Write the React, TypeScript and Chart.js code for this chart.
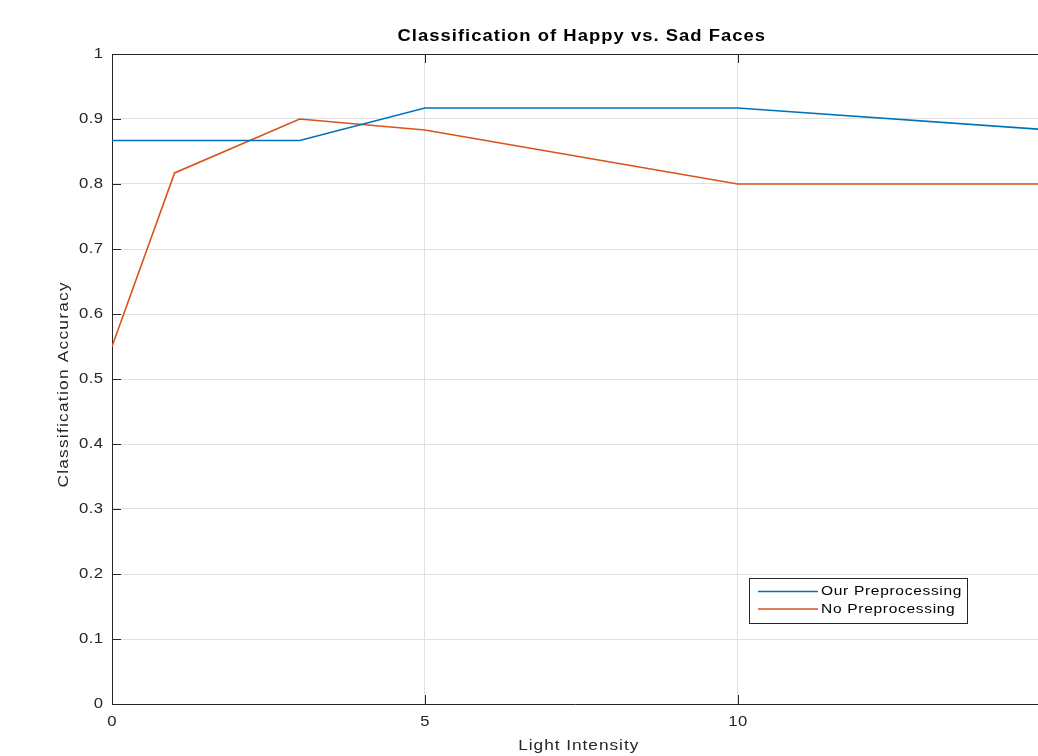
import React, { useEffect, useRef } from "react";
import { Chart, registerables } from "chart.js";

Chart.register(...registerables);

const lightIntensity = [0, 1, 3, 5, 10, 15];
const ourPreprocessing = [0.867, 0.867, 0.867, 0.917, 0.917, 0.883];
const noPreprocessing = [0.55, 0.817, 0.9, 0.883, 0.8, 0.8];
const xTicks = [0, 5, 10];
const yTicks = [0, 0.1, 0.2, 0.3, 0.4, 0.5, 0.6, 0.7, 0.8, 0.9, 1];
const seriesLabels = ["Our Preprocessing", "No Preprocessing"];
const seriesColors = ["#0072BD", "#D95319"];
const titleText = "Classification of Happy vs. Sad Faces";
const xLabel = "Light Intensity";
const yLabel = "Classification Accuracy";

const FONT = '"Liberation Sans", Arial, Helvetica, sans-serif';
const AXIS_COLOR = "#262626";
const STRETCH = 1.15;

function drawText(ctx: any, text: string, x: number, y: number, font: string, spacing: number, align: string, baseline: string, color: string) {
  ctx.save();
  ctx.font = font;
  ctx.fillStyle = color;
  ctx.textBaseline = baseline;
  ctx.letterSpacing = spacing + "px";
  const w = (ctx.measureText(text).width - spacing) * STRETCH;
  let sx = x;
  if (align === "center") sx = x - w / 2;
  else if (align === "right") sx = x - w;
  ctx.textAlign = "left";
  ctx.translate(sx, y);
  ctx.scale(STRETCH, 1);
  ctx.fillText(text, 0, 0);
  ctx.restore();
}

const decorPlugin = {
  id: "decor",
  afterDraw(chart: any) {
    const { ctx, chartArea } = chart;
    const xs = chart.scales.x;
    const ys = chart.scales.y;
    ctx.save();
    ctx.strokeStyle = AXIS_COLOR;
    ctx.lineWidth = 1;
    // top border
    ctx.beginPath();
    ctx.moveTo(chartArea.left, chartArea.top + 0.5);
    ctx.lineTo(chartArea.right, chartArea.top + 0.5);
    ctx.stroke();
    // inner ticks
    const tl = 9;
    xs.ticks.forEach((t: any) => {
      const px = Math.round(xs.getPixelForValue(t.value)) + 0.5;
      ctx.beginPath();
      ctx.moveTo(px, chartArea.bottom);
      ctx.lineTo(px, chartArea.bottom - tl);
      ctx.moveTo(px, chartArea.top);
      ctx.lineTo(px, chartArea.top + tl);
      ctx.stroke();
    });
    ys.ticks.forEach((t: any) => {
      const py = Math.round(ys.getPixelForValue(t.value)) + 0.5;
      ctx.beginPath();
      ctx.moveTo(chartArea.left, py);
      ctx.lineTo(chartArea.left + tl, py);
      ctx.stroke();
    });
    ctx.restore();

    const tickFont = "14.5px " + FONT;
    xs.ticks.forEach((t: any) => {
      const px = xs.getPixelForValue(t.value);
      drawText(ctx, String(t.value), px, chartArea.bottom + 11, tickFont, 0.4, "center", "top", AXIS_COLOR);
    });
    ys.ticks.forEach((t: any) => {
      const py = ys.getPixelForValue(t.value);
      const label = String(Number(t.value.toFixed(1)));
      drawText(ctx, label, chartArea.left - 9, py, tickFont, 0.4, "right", "middle", AXIS_COLOR);
    });

    // title
    const axisCenterX = chartArea.left + 7.5 * (xs.getPixelForValue(1) - xs.getPixelForValue(0));
    drawText(ctx, titleText, axisCenterX, 37, "bold 16px " + FONT, 0.9, "center", "middle", "#000000");
    // x label
    drawText(ctx, xLabel, axisCenterX - 3, 746, "15px " + FONT, 0.85, "center", "middle", AXIS_COLOR);
    // y label
    ctx.save();
    ctx.translate(64, (chartArea.top + chartArea.bottom) / 2 + 6);
    ctx.rotate(-Math.PI / 2);
    drawText(ctx, yLabel, 0, 0, "15px " + FONT, 1.1, "center", "middle", AXIS_COLOR);
    ctx.restore();

    // legend
    const bx = 749, by = 578, bw = 218, bh = 45;
    ctx.save();
    ctx.fillStyle = "#ffffff";
    ctx.fillRect(bx, by, bw, bh);
    ctx.strokeStyle = AXIS_COLOR;
    ctx.lineWidth = 1;
    ctx.strokeRect(bx + 0.5, by + 0.5, bw, bh);
    chart.data.datasets.forEach((ds: any, i: number) => {
      const ly = 591.5 + i * 17.5;
      ctx.strokeStyle = ds.borderColor;
      ctx.lineWidth = 1.5;
      ctx.beginPath();
      ctx.moveTo(758, ly);
      ctx.lineTo(818, ly);
      ctx.stroke();
      drawText(ctx, ds.label, 821, ly, "13.5px " + FONT, 0.6, "left", "middle", "#000000");
    });
    ctx.restore();
  },
};

export default function App() {
  const ref = useRef<HTMLCanvasElement | null>(null);
  useEffect(() => {
    document.body.style.margin = "0";
    const canvas = ref.current!;
    const chart = new Chart(canvas, {
      type: "line",
      data: {
        labels: lightIntensity,
        datasets: [
          {
            label: seriesLabels[0],
            data: lightIntensity.map((x, i) => ({ x, y: ourPreprocessing[i] })),
            borderColor: seriesColors[0],
            backgroundColor: seriesColors[0],
            borderWidth: 1.6,
            pointRadius: 0,
            tension: 0,
          },
          {
            label: seriesLabels[1],
            data: lightIntensity.map((x, i) => ({ x, y: noPreprocessing[i] })),
            borderColor: seriesColors[1],
            backgroundColor: seriesColors[1],
            borderWidth: 1.6,
            pointRadius: 0,
            tension: 0,
          },
        ],
      },
      options: {
        responsive: false,
        animation: false,
        devicePixelRatio: 1,
        layout: { padding: { top: 54, left: 0, right: 0, bottom: 0 } },
        plugins: {
          legend: { display: false },
          title: { display: false },
          tooltip: { enabled: false },
        },
        scales: {
          x: {
            type: "linear",
            min: 0,
            max: 14.8,
            afterBuildTicks: (s: any) => {
              s.ticks = xTicks.map((v) => ({ value: v }));
            },
            afterFit: (s: any) => {
              s.height = 52;
            },
            ticks: { display: false },
            grid: { color: "#e1e1e1", drawTicks: false, lineWidth: 1 },
            border: { display: true, color: AXIS_COLOR, width: 1 },
          },
          y: {
            type: "linear",
            min: 0,
            max: 1,
            afterBuildTicks: (s: any) => {
              s.ticks = yTicks.map((v) => ({ value: v }));
            },
            afterFit: (s: any) => {
              s.width = 112;
            },
            ticks: { display: false },
            grid: { color: "#e1e1e1", drawTicks: false, lineWidth: 1 },
            border: { display: true, color: AXIS_COLOR, width: 1 },
          },
        },
      },
      plugins: [decorPlugin],
    });
    return () => chart.destroy();
  }, []);
  return (
    <div style={{ position: "fixed", left: 0, top: 0, width: 1038, height: 756, background: "#fff" }}>
      <canvas ref={ref} width={1038} height={756} style={{ display: "block", width: 1038, height: 756 }} />
    </div>
  );
}
